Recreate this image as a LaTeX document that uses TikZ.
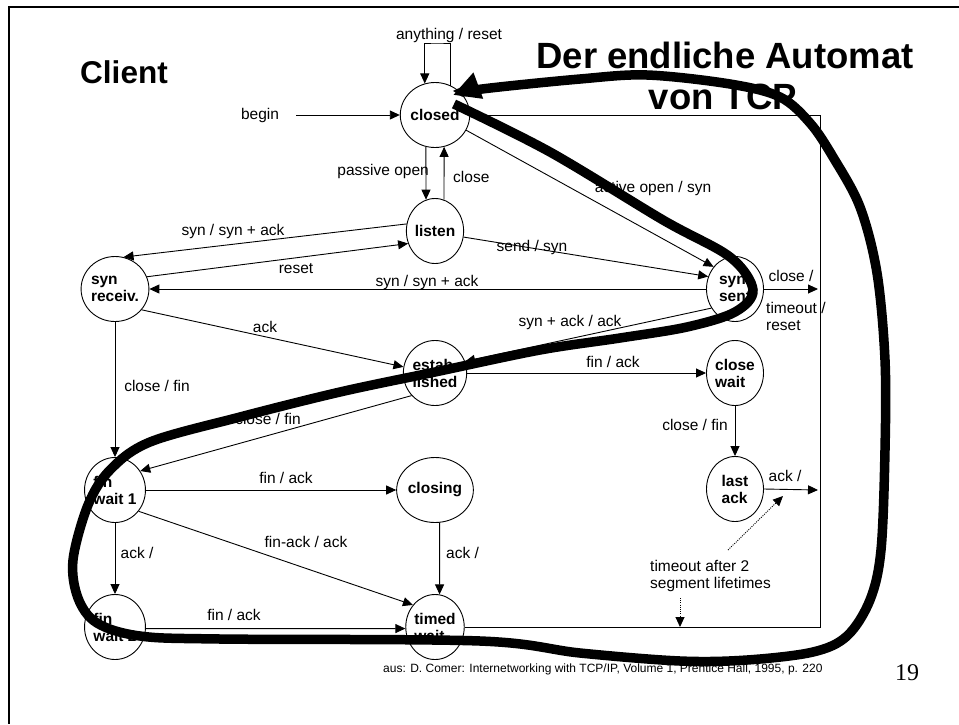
\documentclass[tikz,border=0pt]{standalone}
\usepackage{fontspec}
\setmainfont{Liberation Sans}
\newfontfamily\serifnum{Liberation Serif}
\usetikzlibrary{shapes.geometric,arrows.meta}
\begin{document}
\begin{tikzpicture}[x=1pt,y=-1pt,
  state/.style={draw, ellipse, minimum width=57pt, minimum height=65pt, inner sep=0pt,
    align=left, font=\fontsize{15.5}{17}\selectfont\bfseries, line width=0.9pt},
  arr/.style={line width=0.9pt, -{Triangle[length=10pt,width=9pt]}},
  plainline/.style={line width=0.9pt},
  dotarr/.style={line width=0.9pt, dash pattern=on 1pt off 1.2pt, -{Triangle[length=10pt,width=9pt]}},
  lbl/.style={font=\fontsize{15.5}{17}\selectfont, inner sep=0pt, text height=11.5pt, text depth=3.5pt},
  lbltwo/.style={font=\fontsize{15.5}{17}\selectfont, inner sep=0pt, align=left},
  bigtitle/.style={font=\fontsize{36.5}{42}\selectfont\bfseries, inner sep=0pt},
  heavy/.style={line width=9.5pt, -{Triangle[length=27pt,width=26pt]}}
]
\useasboundingbox (0,0) rectangle (959,724);
% frame
\draw[line width=2.5pt] (959,7) -- (9,7) -- (9,724);

% titles
\node[font=\fontsize{31.5}{36}\selectfont\bfseries, inner sep=0pt] (client) at (124,72) {Client};
\node[bigtitle] (title1) at (725,55) {Der endliche Automat};
\node[bigtitle] (title2) at (723,97) {von TCP};

% states
\node[state] (closed) at (435,115) {closed};
\node[state] (listen) at (435,231) {listen};
\node[state] (synrcvd) at (115,289) {syn\\receiv.};
\node[state] (synsent) at (735,289) {syn\\sent};
\node[state] (estab) at (435,373) {estab\\lished};
\node[state] (closewait) at (735,373) {close\\wait};
\node[state] (finwait1) at (115,490) {fin\\wait 1};
\node[state] (closing) at (435,490) {closing};
\node[state] (lastack) at (735,489) {last\\ack};
\node[state] (finwait2) at (115,627) {fin\\wait 2};
\node[state] (timedwait) at (435,627) {timed\\wait};

% helper coordinates
\coordinate (beginstart) at (296,115);
\coordinate (looptop) at (437,43);
\coordinate (closeend) at (818,289);
\coordinate (ackend) at (818,490);
\coordinate (rtop) at (820,115);
\coordinate (rbot) at (820,627);
\coordinate (dot1s) at (728,550);
\coordinate (dot1e) at (783,496);
\coordinate (dot2s) at (680,598);
\coordinate (dot2e) at (680,627);

% connectors
\draw[arr] (beginstart) -- (closed.west);
\draw[arr] (closed.62) |- (looptop) -| (closed.108);
\draw[arr] (closed.-106) -- (listen.106);
\draw[arr] (listen.74) -- (closed.-74);
\draw[arr] (closed.-26) -- (synsent.134);
\draw[arr] (listen.166) -- (synrcvd.75);
\draw[arr] (synrcvd.21) -- (listen.-155);
\draw[arr] (synsent.180) -- (synrcvd.0);
\draw[arr] (listen.-12) -- (synsent.155);
\draw[arr] (synsent.0) -- (closeend);
\draw[arr] (synrcvd.-38) -- (estab.169);
\draw[arr] (synsent.-141) -- (estab.21);
\draw[arr] (estab.0) -- (closewait.180);
\draw[arr] (closewait.-90) -- (lastack.90);
\draw[arr] (lastack.0) -- (ackend);
\draw[arr] (synrcvd.-90) -- (finwait1.90);
\draw[arr] (estab.-136) -- (finwait1.37);
\draw[arr] (finwait1.0) -- (closing.180);
\draw[arr] (finwait1.-42) -- (timedwait.135);
\draw[arr] (finwait1.-90) -- (finwait2.90);
\draw[arr] (closing.-82) -- (timedwait.82);
\draw[arr] (finwait2.-3) -- (timedwait.183);
\draw[plainline] (timedwait.0) -- (rbot) -- (rtop) -- (closed.0);
\draw[dotarr] (dot1s) -- (dot1e);
\draw[dotarr] (dot2s) -- (dot2e);

% labels
\node[lbl] (l1) at (449,35) {anything / reset};
\node[lbl] (l2) at (260,115) {begin};
\node[lbl, anchor=east] (l3) at (429,171) {passive open};
\node[lbl, anchor=west] (l4) at (453,178) {close};
\node[lbl] (l5) at (653,188) {active open / syn};
\node[lbl] (l6) at (233,231) {syn / syn + ack};
\node[lbl] (l7) at (296,269) {reset};
\node[lbl] (l8) at (427,282) {syn / syn + ack};
\node[lbl] (l9) at (532,247) {send / syn};
\node[lbl] (l10) at (791,277) {close /};
\node[lbltwo, anchor=west] (l11) at (766,316) {timeout /\\reset};
\node[lbl] (l12) at (265,328) {ack};
\node[lbl] (l13) at (570,322) {syn + ack / ack};
\node[lbl] (l14) at (613,363) {fin / ack};
\node[lbl] (l15) at (157,387) {close / fin};
\node[lbl] (l16) at (268,420) {close / fin};
\node[lbl] (l17) at (695,426) {close / fin};
\node[lbl] (l18) at (286,479) {fin / ack};
\node[lbl] (l19) at (785,477) {ack /};
\node[lbl] (l20) at (306,543) {fin-ack / ack};
\node[lbl] (l21) at (137,554) {ack /};
\node[lbl, anchor=west] (l22) at (446,554) {ack /};
\node[lbltwo, anchor=west] (l23) at (650,576) {timeout after 2\\segment lifetimes};
\node[lbl] (l24) at (234,616) {fin / ack};
\node[font=\fontsize{12}{14}\selectfont, inner sep=0pt, anchor=west] (foot) at (383,669)
  {aus: D. Comer: Internetworking with TCP/IP, Volume 1, Prentice Hall, 1995, p. 220};
\node[font=\serifnum\fontsize{24}{26}\selectfont, inner sep=0pt] (pagenum) at (907,673) {19};

% heavy annotation curve
\draw[heavy] plot[smooth, tension=0.55] coordinates {
  (454,104) (550,152) (663,220) (730,257) (753,290) (735,312) (687,327) (620,338)
  (540,350) (435,372) (340,392) (240,417) (150,442) (110,470) (88,505) (73,560)
  (78,598) (97,623) (140,636) (220,639) (480,641) (580,653) (680,661) (747,660)
  (813,652) (847,636) (870,600) (881,550) (885,450) (885,360) (877,273) (860,207)
  (833,157) (810,123) (780,97) (730,84) (647,75) (580,79) (482,89) (453,95)};
\end{tikzpicture}
\end{document}
